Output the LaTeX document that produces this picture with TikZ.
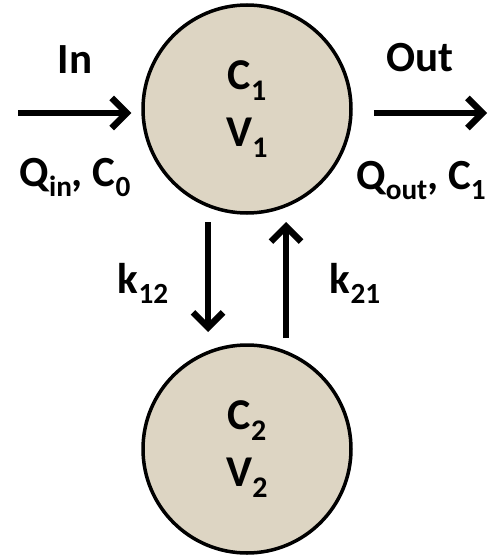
\documentclass[tikz,border=0pt]{standalone}
\usepackage{fontspec}
\setmainfont{Carlito}
\usetikzlibrary{arrows.meta}
\definecolor{compfill}{RGB}{221,213,195}
\newcommand\sbx[1]{\raisebox{-0.25em}{\scalebox{0.68}{#1}}}
\begin{document}
\begin{tikzpicture}[x=1pt,y=-1pt,
  comp/.style={circle,draw=black,line width=3.5pt,fill=compfill,minimum size=208pt,inner sep=0pt,
    font=\fontsize{44}{57}\selectfont\bfseries,align=center},
  lbl/.style={font=\fontsize{43}{46}\selectfont\bfseries,inner sep=0pt},
  arr/.style={line width=6.5pt,-{Straight Barb[length=15pt,width=30pt]}}]
\useasboundingbox (0,0) rectangle (495,559);
\node[comp] (c1) at (247,109) {C\sbx{1}\\V\sbx{1}};
\node[comp] (c2) at (247,449) {C\sbx{2}\\V\sbx{2}};
\coordinate (inS) at (18,113);
\coordinate (outE) at (487,113);
\coordinate (dS) at (208,222);
\coordinate (dE) at (208,332);
\coordinate (uS) at (286,338);
\coordinate (uE) at (286,222);
\draw[arr] (inS) -- (inS -| c1.west) [shorten >=10pt];
\draw[arr] (outE -| c1.east) -- (outE) [shorten <=21pt];
\draw[arr] (dS) -- (dE);
\draw[arr] (uS) -- (uE);
\node[lbl] (in) at (75,60) {In};
\node[lbl] (out) at (420,58) {Out};
\node[lbl,anchor=base] (qin) at (75,186) {Q\sbx{in}, C\sbx{0}};
\node[lbl,anchor=base] (qout) at (421,189) {Q\sbx{out}, C\sbx{1}};
\node[lbl,anchor=base] (k12) at (143,293) {k\sbx{12}};
\node[lbl,anchor=base] (k21) at (355,293) {k\sbx{21}};
\end{tikzpicture}
\end{document}
